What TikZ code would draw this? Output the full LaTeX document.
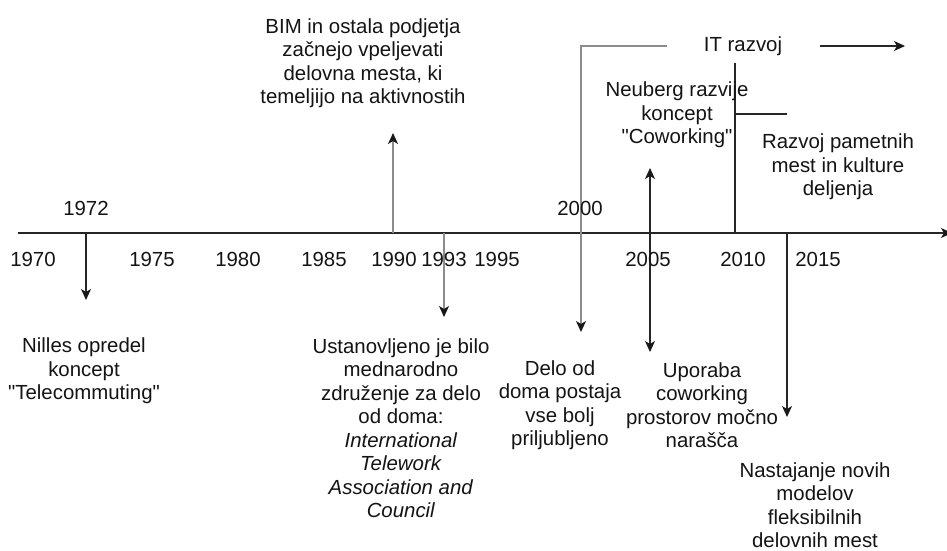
\documentclass[tikz,border=0pt]{standalone}
\usepackage{fontspec}
\setmainfont{Liberation Sans}
\usetikzlibrary{arrows.meta}
\begin{document}
\begin{tikzpicture}[x=1pt,y=-1pt,
  lbl/.style={font=\fontsize{20.4}{23.5}\selectfont, text=black!92, align=center, inner sep=0pt},
  ln/.style={line width=1.2pt, draw=black!85},
  gln/.style={line width=1.4pt, draw=black!45},
  tip/.style={-{Stealth[length=11pt,width=10pt,inset=3pt,color=black!90]}},
  tips/.style={{Stealth[length=11pt,width=10pt,inset=3pt,color=black!90]}-{Stealth[length=11pt,width=10pt,inset=3pt,color=black!90]}},
]
\clip (0,0) rectangle (947,550);
\fill[white] (0,0) rectangle (947,550);

% axis
\coordinate (axL) at (18,233);
\coordinate (axR) at (952,233);

% connector end points
\coordinate (a72) at (86,233);   \coordinate (e72) at (86,300);
\coordinate (a90) at (393,233);  \coordinate (e90) at (393,133);
\coordinate (a93) at (444,233);  \coordinate (e93) at (444,317);
\coordinate (t00) at (667,46);   \coordinate (c00) at (581,46);  \coordinate (e00) at (581,332);
\coordinate (s05) at (650,168);  \coordinate (e05) at (650,352);
\coordinate (t10) at (735,63);   \coordinate (a10) at (735,233);
\coordinate (b10) at (735,114);  \coordinate (r10) at (787,114);
\coordinate (a15) at (787,233);  \coordinate (e15) at (787,417);
\coordinate (itS) at (820,46);   \coordinate (itE) at (905,46);

% lines
\draw[ln,tip] (axL) -- (axR);
\draw[ln,tip] (a72) -- (e72);
\draw[gln,tip] (a90) -- (e90);
\draw[gln,tip] (a93) -- (e93);
\draw[gln,tip] (t00) -- (c00) -- (e00);
\draw[ln,tips] (s05) -- (e05);
\draw[ln] (t10) -- (a10);
\draw[ln] (b10) -- (r10);
\draw[ln,tip] (a15) -- (e15);
\draw[ln,tip] (itS) -- (itE);

% year labels
\node[lbl] (n1972) at (86,208) {1972};
\node[lbl] (n2000) at (580,208) {2000};
\node[lbl] (y1970) at (33,259) {1970};
\node[lbl] (y1975) at (152,259) {1975};
\node[lbl] (y1980) at (238,259) {1980};
\node[lbl] (y1985) at (324,259) {1985};
\node[lbl] (y1990) at (394,259) {1990};
\node[lbl] (y1993) at (444,259) {1993};
\node[lbl] (y1995) at (497,259) {1995};
\node[lbl] (y2005) at (648,259) {2005};
\node[lbl] (y2010) at (743,259) {2010};
\node[lbl] (y2015) at (818,259) {2015};

% event texts
\node[lbl] (bim) at (363,63) {BIM in ostala podjetja\\začnejo vpeljevati\\delovna mesta, ki\\temeljijo na aktivnostih};
\node[lbl] (nilles) at (84,371) {Nilles opredel\\koncept\\\textquotedbl Telecommuting\textquotedbl};
\node[lbl] (ust) at (401,428) {Ustanovljeno je bilo\\mednarodno\\združenje za delo\\od doma:\\\textit{International}\\\textit{Telework}\\\textit{Association and}\\\textit{Council}};
\node[lbl] (delo) at (560,405) {Delo od\\doma postaja\\vse bolj\\priljubljeno};
\node[lbl] (upo) at (702,405) {Uporaba\\coworking\\prostorov močno\\narašča};
\node[lbl] (nast) at (815,505) {Nastajanje novih\\modelov\\fleksibilnih\\delovnih mest};
\node[lbl] (neu) at (677,115) {Neuberg razvije\\koncept\\\textquotedbl Coworking\textquotedbl};
\node[lbl] (razv) at (838,167) {Razvoj pametnih\\mest in kulture\\deljenja};
\node[lbl] (it) at (743,46) {IT razvoj};
\end{tikzpicture}
\end{document}
